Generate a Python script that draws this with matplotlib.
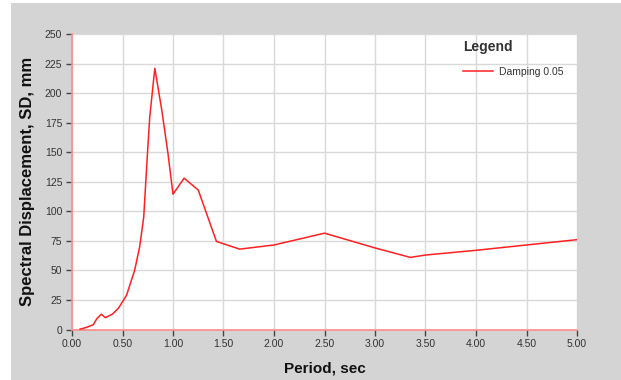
import matplotlib
matplotlib.use("Agg")
import matplotlib.pyplot as plt
from matplotlib.patches import Rectangle

# spectral displacement curve
period = [0.08, 0.14, 0.21, 0.245, 0.29, 0.33, 0.40, 0.46, 0.54, 0.62, 0.67,
          0.71, 0.745, 0.77, 0.82, 0.89, 0.95, 1.00, 1.11, 1.25, 1.43, 1.66,
          2.00, 2.50, 3.00, 3.35, 3.50, 4.00, 4.50, 5.00]
sd_mm = [0.3, 1.7, 4.0, 9.0, 13.0, 10.0, 13.0, 18.0, 29.0, 50.0, 70.0,
         95.0, 146.0, 180.0, 221.0, 185.0, 149.0, 114.5, 128.0, 118.0, 74.5, 68.0,
         71.5, 81.5, 69.0, 61.0, 63.0, 67.0, 71.5, 76.0]

xticks = [0, 0.5, 1.0, 1.5, 2.0, 2.5, 3.0, 3.5, 4.0, 4.5, 5.0]
yticks = [0, 25, 50, 75, 100, 125, 150, 175, 200, 225, 250]

fig = plt.figure(figsize=(6.21, 3.80), dpi=100, facecolor="white")
fig.patches.append(Rectangle((11 / 621, 0), 1, 377 / 380, transform=fig.transFigure,
                             facecolor="#d4d4d4", edgecolor="none", zorder=-10))

ax = fig.add_axes([72 / 621, 50.5 / 380, 505 / 621, 295.5 / 380])
ax.set_facecolor("white")
ax.plot(period, sd_mm, color="#ff2020", lw=1.1, label="Damping 0.05", zorder=3)

ax.set_xlim(0, 5)
ax.set_ylim(0, 250)
ax.set_xticks(xticks)
ax.set_xticklabels([f"{t:.2f}" for t in xticks])
ax.set_yticks(yticks)
ax.grid(True, color="#d9d9d9", lw=1)
ax.set_axisbelow(True)

for side in ["top", "right"]:
    ax.spines[side].set_visible(False)
for side in ["left", "bottom"]:
    ax.spines[side].set_color("#ff8c8c")
    ax.spines[side].set_linewidth(1.2)

ax.tick_params(direction="out", length=4, width=1, color="#444444",
               labelsize=7.5, labelcolor="#333333", pad=3)
for lab in ax.get_xticklabels() + ax.get_yticklabels():
    lab.set_family("Liberation Sans")

ax.set_xlabel("Period, sec", fontsize=11, fontweight="bold", family="Liberation Sans",
              color="#111111", labelpad=9)
ax.set_ylabel("Spectral Displacement, SD, mm", fontsize=12, fontweight="bold",
              family="Liberation Sans", color="#111111", labelpad=7)

leg = ax.legend(loc="upper left", bbox_to_anchor=(0.755, 1.01), frameon=False,
                title="Legend", alignment="left", handlelength=2.9, handletextpad=0.6,
                labelspacing=1.2, prop={"family": "Liberation Sans", "size": 7.5})
leg.get_title().set_fontweight("bold")
leg.get_title().set_fontsize(10)
leg.get_title().set_family("Liberation Sans")
leg.get_title().set_color("#333333")
for t in leg.get_texts():
    t.set_color("#333333")

fig.savefig("out.png", dpi=100, facecolor=fig.get_facecolor())
